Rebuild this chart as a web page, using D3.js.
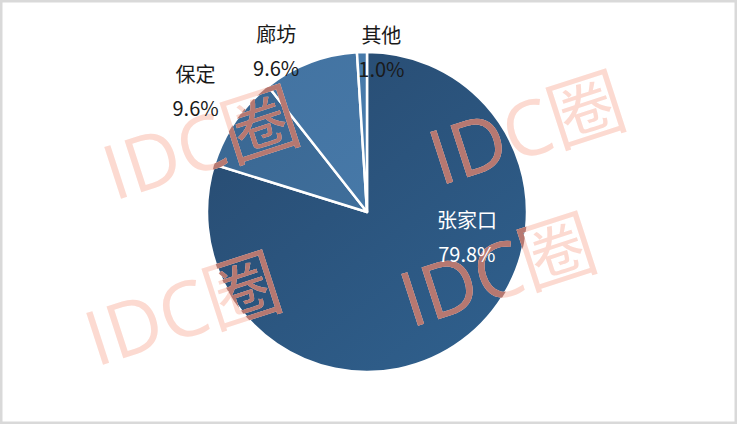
<!DOCTYPE html>
<html>
<head>
<meta charset="utf-8">
<script src="https://cdn.jsdelivr.net/npm/d3@7"></script>
<style>
  html, body { margin: 0; padding: 0; background: #fff; }
  svg { display: block; }
</style>
</head>
<body>
<svg id="chart" width="737" height="424"></svg>
<script>
// ---- data ----
const categories = ["张家口", "保定", "廊坊", "其他"];
const values = [79.8, 9.6, 9.6, 1.0];
const valueLabels = ["79.8%", "9.6%", "9.6%", "1.0%"];

// ---- layout / style (not data) ----
const W = 737, H = 424;
const cx = 367, cy = 212, R = 160;
const gradStops = [
  ["#27496e", "#2f5f8c"],
  ["#386590", "#4576a4"],
  ["#4272a0", "#4b7eae"],
  ["#4678a8", "#4c80b0"]
];
const labelPlacement = [
  {r: 102, da: -42},
  {r: 212, da: 1.5},
  {r: 188, da: -8},
  {r: 165, da: 6.8}
];
const labelColors = ["#ffffff", "#1a1a1a", "#1a1a1a", "#1a1a1a"];
const watermarks = [[114, 201], [440, 186], [96, 367], [411, 328]];

const svg = d3.select("#chart");
const defs = svg.append("defs");

gradStops.forEach((s, i) => {
  const g = defs.append("linearGradient")
    .attr("id", "g" + i)
    .attr("gradientUnits", "userSpaceOnUse")
    .attr("x1", -R).attr("y1", -R)
    .attr("x2", R * 0.6).attr("y2", R);
  g.append("stop").attr("offset", "0%").attr("stop-color", s[0]);
  g.append("stop").attr("offset", "100%").attr("stop-color", s[1]);
});

defs.append("clipPath").attr("id", "pieClip")
  .append("circle").attr("cx", cx).attr("cy", cy).attr("r", R);

svg.append("rect").attr("x", 0).attr("y", 0).attr("width", W).attr("height", H)
  .attr("fill", "#fff");

const pie = d3.pie().sort(null).value(d => d)(values);
const arc = d3.arc().innerRadius(0).outerRadius(R);

const g = svg.append("g").attr("transform", `translate(${cx},${cy})`);
g.selectAll("path.slice").data(pie).join("path")
  .attr("class", "slice")
  .attr("d", arc)
  .attr("fill", (d, i) => `url(#g${i})`)
  .attr("stroke", "#ffffff")
  .attr("stroke-width", 2.5)
  .attr("stroke-linejoin", "round");

// watermark
const wmFont = "'Open Sans', 'Noto Sans CJK SC', sans-serif";
function drawWM(parent, fill) {
  watermarks.forEach(([x, y]) => {
    parent.append("text")
      .attr("x", x).attr("y", y)
      .attr("transform", `rotate(-18, ${x}, ${y})`)
      .attr("font-family", wmFont)
      .attr("font-weight", 400)
      .attr("font-size", 76)
      .attr("fill", fill)
      .text("IDC圈");
  });
}
drawWM(svg.append("g"), "#fcdad1");
drawWM(svg.append("g").attr("clip-path", "url(#pieClip)"), "#b67871");

// labels
const lab = svg.append("g")
  .attr("font-family", "'Noto Sans CJK SC', 'Noto Sans', sans-serif")
  .attr("font-size", 20)
  .attr("text-anchor", "middle");
pie.forEach((d, i) => {
  const mid = (d.startAngle + d.endAngle) / 2 + labelPlacement[i].da * Math.PI / 180;
  const r = labelPlacement[i].r;
  const x = cx + r * Math.sin(mid);
  const y = cy - r * Math.cos(mid);
  const t = lab.append("text").attr("fill", labelColors[i]);
  t.append("tspan").attr("x", x).attr("y", y - 5).text(categories[i]);
  t.append("tspan").attr("x", x).attr("y", y + 29).text(valueLabels[i]);
});

// frame
svg.append("rect").attr("x", 1).attr("y", 1).attr("width", W - 2).attr("height", H - 2)
  .attr("fill", "none").attr("stroke", "#d9d9d9").attr("stroke-width", 3);
</script>
</body>
</html>
